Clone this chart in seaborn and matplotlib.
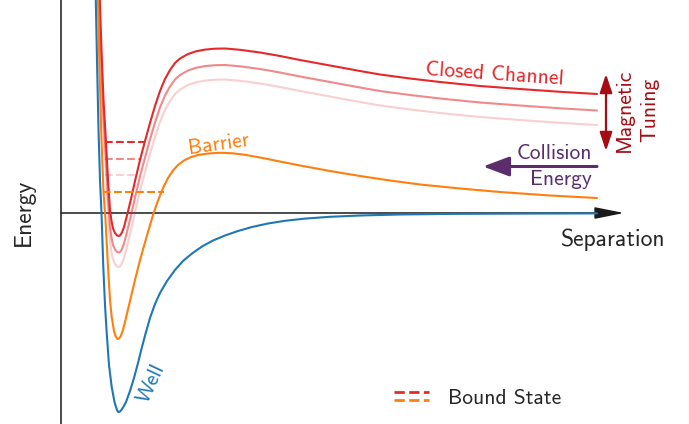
import numpy as np
import pandas as pd
import matplotlib
matplotlib.use("Agg")
import matplotlib.pyplot as plt
import seaborn as sns
from matplotlib.lines import Line2D
from matplotlib.legend_handler import HandlerBase

# --- potential curves (separation, energy) ---
well_r = [0.345, 0.36, 0.375, 0.39, 0.405, 0.423, 0.44, 0.457, 0.48, 0.507, 0.535, 0.55,
          0.562, 0.573, 0.585, 0.60, 0.62, 0.65, 0.69, 0.73, 0.77, 0.81, 0.85, 0.89, 0.94,
          0.99, 1.06, 1.14, 1.22, 1.31, 1.41, 1.52, 1.64, 1.77, 1.91, 2.07, 2.24, 2.44,
          2.69, 2.99, 3.39, 3.89, 4.59, 5.36]
well_E = [2.28, 1.53, 0.83, 0.33, 0.0, -0.54, -0.92, -1.20, -1.52, -1.74, -1.89, -1.94,
          -1.975, -1.99, -1.988, -1.975, -1.945, -1.89, -1.78, -1.65, -1.50, -1.34, -1.19, -1.05, -0.91,
          -0.80, -0.68, -0.57, -0.48, -0.405, -0.335, -0.275, -0.225, -0.18, -0.14, -0.105, -0.078, -0.056,
          -0.038, -0.025, -0.015, -0.009, -0.006, -0.004]

barrier_r = [0.367, 0.385, 0.405, 0.425, 0.445, 0.47, 0.49, 0.507, 0.53, 0.545, 0.563, 0.58,
             0.595, 0.615, 0.64, 0.69, 0.74, 0.79, 0.83, 0.87, 0.92, 0.97, 1.02, 1.07, 1.12,
             1.17, 1.23, 1.29, 1.37, 1.47, 1.59, 1.71, 1.84, 1.99, 2.19, 2.39, 2.69, 2.99,
             3.29, 3.59, 3.99, 4.39, 4.89, 5.36]
barrier_E = [2.28, 1.43, 0.73, 0.21, -0.07, -0.54, -0.87, -1.04, -1.18, -1.23, -1.26, -1.255,
             -1.235, -1.185, -1.09, -0.88, -0.67, -0.47, -0.33, -0.19, -0.02, 0.125, 0.25, 0.35, 0.425,
             0.48, 0.525, 0.555, 0.58, 0.595, 0.602, 0.598, 0.582, 0.555, 0.515, 0.475, 0.42, 0.37,
             0.325, 0.285, 0.245, 0.21, 0.175, 0.15]

closed_r = [0.383, 0.405, 0.425, 0.45, 0.47, 0.49, 0.505, 0.52, 0.54, 0.558, 0.573, 0.59,
            0.61, 0.63, 0.66, 0.70, 0.74, 0.79, 0.84, 0.89, 0.94, 0.99, 1.04, 1.09, 1.14,
            1.19, 1.27, 1.35, 1.44, 1.54, 1.64, 1.79, 1.99, 2.19, 2.39, 2.69, 2.99, 3.19,
            3.49, 3.79, 4.19, 4.59, 4.99, 5.36]
closed_E = [2.28, 1.63, 1.13, 0.71, 0.33, 0.03, -0.08, -0.155, -0.20, -0.223, -0.23, -0.225,
            -0.195, -0.14, -0.025, 0.14, 0.32, 0.53, 0.72, 0.90, 1.07, 1.22, 1.34, 1.43, 1.50,
            1.545, 1.59, 1.617, 1.634, 1.643, 1.645, 1.632, 1.605, 1.57, 1.53, 1.475, 1.42, 1.385,
            1.345, 1.31, 1.27, 1.24, 1.212, 1.19]

# magnetic tuning: closed channel shifted down, drawn fainter
tuning_shift = [-0.31, -0.165, 0.0]
tuning_alpha = [0.22, 0.55, 1.0]

# bound states
closed_bound_E = [0.38, 0.54, 0.71]
closed_bound_left = [0.44, 0.44, 0.44]
closed_bound_right = [0.76, 0.79, 0.83]
barrier_bound_E = 0.21
barrier_bound_left = 0.42
barrier_bound_right = 1.03

blue = "#1f77b4"
orange = "#ff7f0e"
red = "#e6282b"
darkred = "#a50d12"
purple = "#5b2d6c"

sns.set_theme(style="white")
plt.rcParams['font.family'] = ['cmss10', 'DejaVu Sans']

fig = plt.figure(figsize=(6.89, 4.24), dpi=100)
ax = fig.add_axes([0, 0, 1, 1])
ax.set_xlim(-0.61, 6.28)
ax.set_ylim(-2.11, 2.13)
ax.set_axis_off()

# axes: vertical line + arrow along separation
ax.axvline(0, color='k', lw=1.1, zorder=1)
ax.annotate('', xy=(5.63, 0), xytext=(0, 0), zorder=1,
            arrowprops=dict(arrowstyle='-|>,head_length=0.9,head_width=0.18',
                            color='k', lw=1.1, mutation_scale=20, shrinkA=0, shrinkB=0))

for shift, a in zip(tuning_shift, tuning_alpha):
    sns.lineplot(x=closed_r, y=np.array(closed_E) + shift, sort=False, estimator=None,
                 color=red, alpha=a, lw=1.5, ax=ax, zorder=3)
for Eb, l, r, a in zip(closed_bound_E, closed_bound_left, closed_bound_right, tuning_alpha):
    ax.hlines(Eb, l, r, colors=red, alpha=a, linestyles='--', lw=1.5, zorder=3)

sns.lineplot(x=barrier_r, y=barrier_E, sort=False, estimator=None, color=orange, lw=1.5, ax=ax, zorder=4)
ax.hlines(barrier_bound_E, barrier_bound_left, barrier_bound_right, colors=orange,
          linestyles='--', lw=1.5, zorder=4)
sns.lineplot(x=well_r, y=well_E, sort=False, estimator=None, color=blue, lw=1.5, ax=ax, zorder=5)

# labels
ax.text(-0.37, 0.01, 'Energy', rotation=90, ha='center', va='center', fontsize=17)
ax.text(5.52, -0.27, 'Separation', ha='center', va='center', fontsize=17)
ax.text(4.34, 1.39, 'Closed Channel', rotation=-4, ha='center', va='center', fontsize=15.5, color=red)
ax.text(1.58, 0.69, 'Barrier', rotation=8, ha='center', va='center', fontsize=15.5, color=orange)
ax.text(0.90, -1.70, 'Well', rotation=65, ha='center', va='center', fontsize=15.5, color=blue)

# magnetic tuning
ax.annotate('', xy=(5.45, 1.39), xytext=(5.45, 0.62),
            arrowprops=dict(arrowstyle='<|-|>,head_length=0.75,head_width=0.25',
                            color=darkred, lw=1.6, mutation_scale=15, shrinkA=0, shrinkB=0))
ax.text(5.76, 1.03, 'Magnetic\nTuning', rotation=90, ha='center', va='center',
        fontsize=15.5, color=darkred, linespacing=1.45)

# collision energy
ax.annotate('', xy=(4.22, 0.465), xytext=(5.36, 0.465),
            arrowprops=dict(arrowstyle='-|>,head_length=0.8,head_width=0.3',
                            color=purple, lw=2.2, mutation_scale=20, shrinkA=0, shrinkB=0))
ax.text(5.31, 0.465, 'Collision\nEnergy', ha='right', va='center', multialignment='right',
        fontsize=15.5, color=purple, linespacing=1.45)


class StackedDashes(HandlerBase):
    def create_artists(self, legend, orig_handle, xdescent, ydescent, width, height, fontsize, trans):
        arts = []
        n = len(orig_handle)
        for i, h in enumerate(orig_handle):
            y = height / 2 - ydescent + (n - 1) / 2 * 5.5 - i * 5.5
            ln = Line2D([-xdescent, -xdescent + width], [y, y], color=h.get_color(),
                        ls=h.get_linestyle(), lw=h.get_linewidth())
            ln.set_transform(trans)
            arts.append(ln)
        return arts


bound_handle = (Line2D([], [], color=red, ls='--', lw=2), Line2D([], [], color=orange, ls='--', lw=2))
ax.legend([bound_handle], ['Bound State'], handler_map={tuple: StackedDashes()},
          loc='center', bbox_to_anchor=(4.165, -1.85), bbox_transform=ax.transData,
          frameon=False, fontsize=15.5, handlelength=1.65, handletextpad=0.85)

fig.savefig('out.png', dpi=100)
